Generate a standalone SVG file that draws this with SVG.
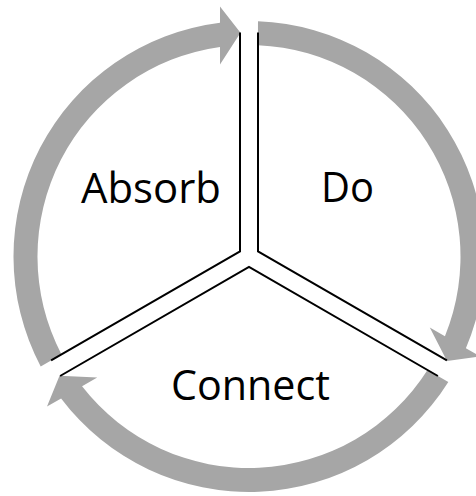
<svg xmlns="http://www.w3.org/2000/svg" xmlns:xlink="http://www.w3.org/1999/xlink" width="476" height="496" viewBox="0 0 476 496">
<style>
.arc{fill:#a6a6a6;stroke:none}
.div{fill:none;stroke:#000;stroke-width:2;stroke-linejoin:miter}
.lbl{font-family:"Open Sans","Noto Sans","Liberation Sans",sans-serif;font-size:42px;fill:#000;text-anchor:middle}
</style>
<defs>
<path id="seg" d="M40.7,366.4 A235.5,235.5 0 0 1 220,22.8 L220,6.5 L240.5,32.8 L220,64.5 L220,47 A211.5,211.5 0 0 0 61.5,354.4 Z"/>
</defs>
<rect width="476" height="496" fill="#fff"/>
<g id="connectors">
<use href="#seg" xlink:href="#seg" class="arc"/>
<use href="#seg" xlink:href="#seg" class="arc" transform="rotate(120 249 256.5)"/>
<use href="#seg" xlink:href="#seg" class="arc" transform="rotate(240 249 256.5)"/>
</g>
<g id="dividers">
<polyline class="div" points="240,32.5 240,251.3 51.1,360.4"/>
<polyline class="div" points="258,32.5 258,251.3 446.9,360.4"/>
<polyline class="div" points="60.1,376 249,266.9 437.9,376"/>
</g>
<g id="node-absorb">
<text class="lbl" x="151" y="203" textLength="140" lengthAdjust="spacingAndGlyphs">Absorb</text>
</g>
<g id="node-do">
<text class="lbl" x="347.5" y="202" textLength="53" lengthAdjust="spacingAndGlyphs">Do</text>
</g>
<g id="node-connect">
<text class="lbl" x="250.5" y="400" textLength="159" lengthAdjust="spacingAndGlyphs">Connect</text>
</g>
</svg>
